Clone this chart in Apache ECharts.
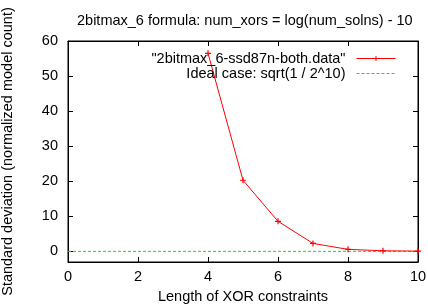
<!DOCTYPE html>
<html>
<head>
<meta charset="utf-8">
<script src="https://cdn.jsdelivr.net/npm/echarts@6/dist/echarts.min.js"></script>
<style>
  html, body { margin: 0; padding: 0; background: #fff; }
  #chart { width: 428px; height: 306px; }
</style>
</head>
<body>
<div id="chart"></div>
<script>
// data
var xorLengths = [4, 5, 6, 7, 8, 9, 10];
var stdDevs = [56.5, 20.3, 8.6, 2.3, 0.6, 0.2, 0.1];
var idealValue = 0.03125; // sqrt(1 / 2^10)
var xTicks = [0, 2, 4, 6, 8, 10];
var yTicks = [0, 10, 20, 30, 40, 50, 60];

var seriesName = '"2bitmax_6-ssd87n-both.data"';
var idealName = 'Ideal case: sqrt(1 / 2^10)';
var font = 'Liberation Sans, Arial, sans-serif';
var fs = 14.5;

var plus = 'path://M4,0H6V4H10V6H6V10H4V6H0V4H4Z';

var myChart = echarts.init(document.getElementById('chart'));

var axisCommon = {
    axisLine: { show: true, onZero: false, lineStyle: { color: '#000', width: 1 } },
    axisTick: { show: true, inside: true, length: 5, lineStyle: { color: '#000' } },
    splitLine: { show: false }
};

var legendCommon = {
    right: 27, align: 'right', orient: 'vertical',
    itemWidth: 39, itemHeight: 6,
    lineStyle: { width: 1 },
    textStyle: { fontFamily: font, fontSize: fs, color: '#000', padding: [0, 6, 0, 0] }
};

var option = {
    animation: false,
    title: {
        text: '2bitmax_6 formula: num_xors = log(num_solns) - 10',
        left: 72, top: 8,
        textStyle: { fontFamily: font, fontSize: fs, fontWeight: 'normal', color: '#000' }
    },
    legend: [
        Object.assign({}, legendCommon, { data: [seriesName], top: 46 }),
        Object.assign({}, legendCommon, {
            data: [idealName], top: 61,
            itemStyle: { color: 'transparent', borderWidth: 0 },
            lineStyle: { width: 1, color: '#00ee00' }
        })
    ],
    grid: {
        left: 68, right: 10, top: 41, bottom: 44,
        outerBoundsMode: 'none', containLabel: false,
        show: true, borderColor: '#000', borderWidth: 1
    },
    xAxis: [
        Object.assign({}, axisCommon, {
            type: 'value', min: xTicks[0], max: xTicks[xTicks.length - 1], interval: 2,
            name: 'Length of XOR constraints', nameLocation: 'middle', nameGap: 27,
            nameTextStyle: { fontFamily: font, fontSize: fs, color: '#000' },
            axisLabel: { fontFamily: font, fontSize: fs, color: '#000', margin: 7 }
        }),
        Object.assign({}, axisCommon, {
            type: 'value', position: 'top', min: 0, max: 10, interval: 2,
            axisLabel: { show: false }
        })
    ],
    yAxis: [
        Object.assign({}, axisCommon, {
            type: 'value', min: -3, max: 60,
            axisTick: { show: true, inside: true, length: 5, customValues: yTicks, lineStyle: { color: '#000' } },
            axisLabel: { fontFamily: font, fontSize: fs, color: '#000', margin: 10, customValues: yTicks },
            name: 'Standard deviation (normalized model count)', nameLocation: 'middle', nameGap: 53,
            nameTextStyle: { fontFamily: font, fontSize: fs, color: '#000' }
        }),
        Object.assign({}, axisCommon, {
            type: 'value', position: 'right', min: -3, max: 60,
            axisTick: { show: true, inside: true, length: 5, customValues: yTicks, lineStyle: { color: '#000' } },
            axisLabel: { show: false }
        })
    ],
    series: [
        {
            name: seriesName,
            type: 'line',
            data: xorLengths.map(function (x, i) { return [x, stdDevs[i]]; }),
            symbol: plus, symbolSize: 6,
            itemStyle: { color: '#ff0000' },
            lineStyle: { color: '#ff0000', width: 1 },
            z: 3
        },
        {
            name: idealName,
            type: 'line',
            data: [[xTicks[0], idealValue], [xTicks[xTicks.length - 1], idealValue]],
            symbol: 'none',
            itemStyle: { color: '#00ee00' },
            lineStyle: { color: '#00ee00', width: 1, type: [3, 2] },
            z: 2
        }
    ]
};
myChart.setOption(option);
</script>
</body>
</html>
